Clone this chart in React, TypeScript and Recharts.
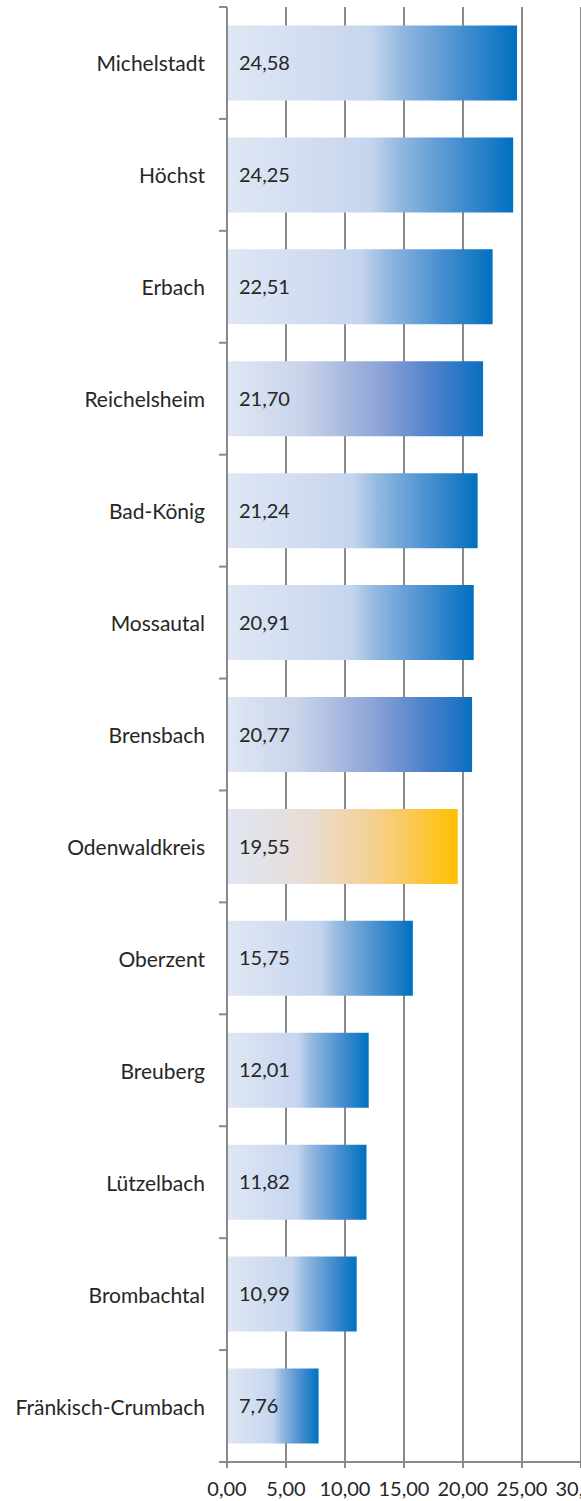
import React from "react";
import { BarChart, Bar, XAxis, YAxis, CartesianGrid, LabelList, Cell } from "recharts";

const categories = [
  "Michelstadt", "Höchst", "Erbach", "Reichelsheim", "Bad-König", "Mossautal",
  "Brensbach", "Odenwaldkreis", "Oberzent", "Breuberg", "Lützelbach", "Brombachtal", "Fränkisch-Crumbach",
];
const values = [24.58, 24.25, 22.51, 21.7, 21.24, 20.91, 20.77, 19.55, 15.75, 12.01, 11.82, 10.99, 7.76];
const colorGroups = ["blue", "blue", "blue", "purple", "blue", "blue", "purple", "orange", "blue", "blue", "blue", "blue", "blue"];
const xTicks = [0, 5, 10, 15, 20, 25, 30];

const data = categories.map((name, i) => ({ name, value: values[i], group: colorGroups[i] }));

const W = 581;
const H = 1501;
const M = { top: 7, right: 0, bottom: 0, left: 0 };
const Y_W = 227;
const X_H = 39;
const FONT = "Lato, 'Open Sans', sans-serif";
const GRID = "#8a8a8a";
const TXT = "#262626";
const halfBand = (H - M.top - M.bottom - X_H) / categories.length / 2;

const fmt = (v: number) => v.toFixed(2).replace(".", ",");

const YTick = (props: any) => {
  const { x, y, payload, index } = props;
  const axisX = x + 22;
  return (
    <g>
      <line x1={axisX - 8} x2={axisX} y1={y - halfBand} y2={y - halfBand} stroke={GRID} strokeWidth={2} />
      {index === categories.length - 1 && (
        <line x1={axisX - 8} x2={axisX} y1={y + halfBand} y2={y + halfBand} stroke={GRID} strokeWidth={2} />
      )}
      <text x={x} y={y} textAnchor="end" dominantBaseline="central" fill={TXT} fontSize={21} fontFamily={FONT}>
        {payload.value}
      </text>
    </g>
  );
};

export default function App() {
  return (
    <div style={{ position: "absolute", left: 0, top: 0, background: "#fff" }}>
      <BarChart width={W} height={H} data={data} layout="vertical" margin={M} barCategoryGap="16.5%">
        <defs>
          <linearGradient id="gBlue" x1="0" y1="0" x2="1" y2="0">
            <stop offset="0" stopColor="#e0e7f4" />
            <stop offset="0.5" stopColor="#c6d5ee" />
            <stop offset="0.6" stopColor="#93b9e0" />
            <stop offset="0.8" stopColor="#4a90d0" />
            <stop offset="1" stopColor="#0070c0" />
          </linearGradient>
          <linearGradient id="gPurple" x1="0" y1="0" x2="1" y2="0">
            <stop offset="0" stopColor="#e0e7f4" />
            <stop offset="0.3" stopColor="#c8d3ea" />
            <stop offset="0.6" stopColor="#8ca3d6" />
            <stop offset="0.8" stopColor="#4f82cb" />
            <stop offset="1" stopColor="#0a6fc0" />
          </linearGradient>
          <linearGradient id="gOrange" x1="0" y1="0" x2="1" y2="0">
            <stop offset="0" stopColor="#dfe6f3" />
            <stop offset="0.35" stopColor="#e8ddd6" />
            <stop offset="0.65" stopColor="#f6cf8e" />
            <stop offset="1" stopColor="#ffc000" />
          </linearGradient>
        </defs>
        <CartesianGrid horizontal={false} stroke={GRID} strokeWidth={2} />
        <XAxis
          type="number"
          domain={[0, 30]}
          ticks={xTicks}
          interval={0}
          height={X_H}
          tickFormatter={fmt}
          axisLine={{ stroke: GRID, strokeWidth: 2 }}
          tickLine={{ stroke: GRID, strokeWidth: 2 }}
          tickSize={6}
          tickMargin={14}
          tick={{ fill: TXT, fontSize: 20, fontFamily: FONT }}
        />
        <YAxis
          type="category"
          dataKey="name"
          width={Y_W}
          interval={0}
          axisLine={{ stroke: GRID, strokeWidth: 2 }}
          tickLine={false}
          tickSize={8}
          tickMargin={14}
          tick={<YTick />}
        />
        <Bar dataKey="value" isAnimationActive={false}>
          {data.map((d, i) => (
            <Cell
              key={i}
              fill={d.group === "orange" ? "url(#gOrange)" : d.group === "purple" ? "url(#gPurple)" : "url(#gBlue)"}
            />
          ))}
          <LabelList
            dataKey="value"
            position="insideLeft"
            offset={12}
            formatter={(v: any) => fmt(Number(v))}
            fill={TXT}
            fontSize={20}
            fontFamily={FONT}
          />
        </Bar>
      </BarChart>
    </div>
  );
}
